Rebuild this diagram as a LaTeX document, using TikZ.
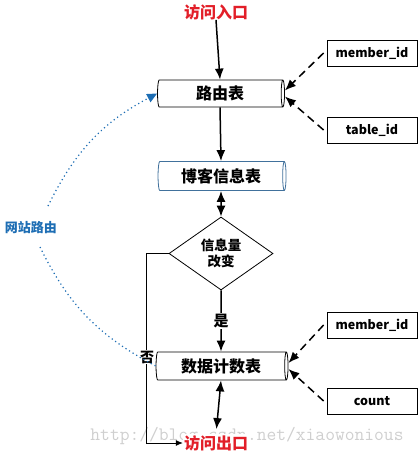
\documentclass[tikz,border=0pt]{standalone}
\usepackage{fontspec}
\setmainfont{Noto Sans CJK SC}
\usetikzlibrary{shapes.geometric,arrows.meta,calc}
\definecolor{myred}{RGB}{226,30,40}
\definecolor{myblue}{RGB}{30,110,180}
\definecolor{tblblue}{RGB}{65,113,156}
\begin{document}
\begin{tikzpicture}[x=1pt,y=-1pt,
  tbl/.style={cylinder, shape border rotate=0, draw, fill=white, shape aspect=0.22,
    inner sep=0pt, line width=0.8pt, font=\bfseries\fontsize{16}{18}\selectfont},
  idbox/.style={draw, line width=0.8pt, minimum width=90pt, minimum height=26pt,
    inner sep=0pt, font=\bfseries\fontsize{12.5}{14}\selectfont},
  lbl/.style={font=\bfseries\fontsize{16}{18}\selectfont, myred, inner sep=0pt},
  arr/.style={-{Latex[length=11pt,width=9pt]}, line width=1.5pt},
  darr/.style={{Latex[length=11pt,width=9pt]}-{Latex[length=11pt,width=9pt]}, line width=1.5pt},
  idarr/.style={-{Latex[length=11pt,width=9pt]}, line width=1.5pt, dash pattern=on 8pt off 5pt},
  wzdot/.style={myblue, line width=1.2pt, dash pattern=on 1.2pt off 3pt},
  wzarr/.style={wzdot, -{Triangle[length=10pt,width=9pt]}}
]
\useasboundingbox (0,0) rectangle (420,455);
% watermark
\node[text=gray!38, font=\ttfamily\fontsize{19}{20}\selectfont, inner sep=0pt, anchor=base] (wm) at (247,440) {http://blog.csdn.net/xiaowonious};

\node[lbl] (en) at (216,12) {访问入口};
\node[tbl, minimum height=127pt, minimum width=27pt] (rt) at (220,93.5) {路由表};
\node[tbl, draw=tblblue, minimum height=128pt, minimum width=29pt] (bt) at (221,176) {博客信息表};
\node[diamond, draw, line width=0.8pt, fill=white, minimum width=104pt, minimum height=73pt, inner sep=0pt,
  align=center, font=\bfseries\fontsize{13.5}{16}\selectfont] (dm) at (221,253.5) {信息量\\改变};
\node[tbl, minimum height=132pt, minimum width=28pt] (dc) at (221,366) {数据计数表};
\node[lbl, fill=white, inner sep=1pt] (ex) at (216,443) {访问出口};

\node[idbox] (m1) at (372,53) {member\_id};
\node[idbox] (t1) at (372,130) {table\_id};
\node[idbox] (m2) at (372,325) {member\_id};
\node[idbox] (c2) at (372,401) {count};

\node[font=\bfseries\fontsize{13}{15}\selectfont, text=myblue, inner sep=0pt] (wz) at (31,228) {网站路由};
\coordinate (wzt) at (48,206);
\coordinate (wzb) at (40,247);

\draw[arr] (en.south) -- (rt.north);
\draw[arr] (rt.south) -- (bt.north);
\draw[darr] (bt.south) -- (dm.north);
\draw[arr] (dm.south) -- node[fill=white, inner sep=1.5pt, font=\bfseries\fontsize{15}{16}\selectfont] (yes) {是} (dc.north);
\draw[darr, shorten >=5pt] (dc.south) -- (ex.north);

\draw[line width=0.8pt, -{Latex[length=7pt,width=6pt]}] (dm.west) -- ++(-22,0) |- (ex.west);
\node[fill=white, inner sep=1pt, font=\bfseries\fontsize{14}{16}\selectfont] (no) at (147,357) {否};

\draw[idarr] ([xshift=-3pt]m1.west) -- ([yshift=3pt]rt.east);
\draw[idarr] ([xshift=-3pt]t1.west) -- ([yshift=-3pt]rt.east);
\draw[idarr] ([xshift=-3pt]m2.west) -- ([yshift=3pt]dc.east);
\draw[idarr] ([xshift=-3pt]c2.west) -- ([yshift=-3pt]dc.east);

\draw[wzarr] (wzt) to[bend left=18] (rt.west);
\draw[wzdot] (wzb) to[bend right=18] (dc.west);
\end{tikzpicture}
\end{document}
